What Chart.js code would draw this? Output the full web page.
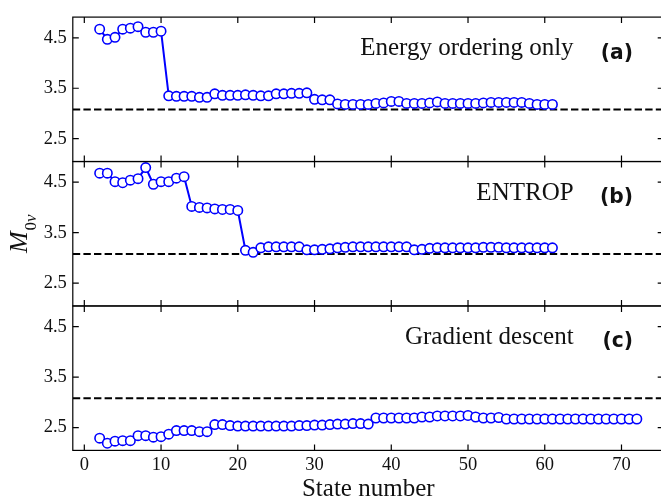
<!DOCTYPE html>
<html>
<head>
<meta charset="utf-8">
<script src="https://cdn.jsdelivr.net/npm/chart.js@4.4.0/dist/chart.umd.min.js"></script>
<style>
  html, body { margin: 0; padding: 0; background: #fff; overflow: hidden; }
  #wrap { position: relative; width: 670px; height: 499px; }
</style>
</head>
<body>
<div id="wrap"><canvas id="myChart" width="670" height="499"></canvas></div>
<script>
// state numbers for each run
const statesA = [2, 3, 4, 5, 6, 7, 8, 9, 10, 11, 12, 13, 14, 15, 16, 17, 18, 19, 20, 21,
  22, 23, 24, 25, 26, 27, 28, 29, 30, 31, 32, 33, 34, 35, 36, 37, 38, 39, 40, 41,
  42, 43, 44, 45, 46, 47, 48, 49, 50, 51, 52, 53, 54, 55, 56, 57, 58, 59, 60, 61];
const statesB = statesA;
const statesC = [2, 3, 4, 5, 6, 7, 8, 9, 10, 11, 12, 13, 14, 15, 16, 17, 18, 19, 20, 21,
  22, 23, 24, 25, 26, 27, 28, 29, 30, 31, 32, 33, 34, 35, 36, 37, 38, 39, 40, 41,
  42, 43, 44, 45, 46, 47, 48, 49, 50, 51, 52, 53, 54, 55, 56, 57, 58, 59, 60, 61,
  62, 63, 64, 65, 66, 67, 68, 69, 70, 71, 72];

// M0v values
const valuesA = [4.67, 4.47, 4.51, 4.67, 4.69, 4.72, 4.61, 4.61, 4.63, 3.35,
  3.34, 3.34, 3.34, 3.32, 3.32, 3.39, 3.36, 3.36, 3.36, 3.37,
  3.36, 3.35, 3.35, 3.39, 3.39, 3.40, 3.40, 3.41, 3.28, 3.27,
  3.27, 3.19, 3.18, 3.18, 3.18, 3.18, 3.20, 3.21, 3.24, 3.24,
  3.20, 3.20, 3.20, 3.21, 3.23, 3.20, 3.20, 3.20, 3.20, 3.20,
  3.21, 3.22, 3.22, 3.22, 3.22, 3.22, 3.20, 3.18, 3.18, 3.18];
const valuesB = [4.68, 4.68, 4.51, 4.49, 4.54, 4.57, 4.79, 4.46, 4.51, 4.51,
  4.58, 4.61, 4.02, 4.00, 3.99, 3.97, 3.96, 3.96, 3.94, 3.15,
  3.11, 3.20, 3.22, 3.22, 3.22, 3.22, 3.22, 3.16, 3.16, 3.17,
  3.18, 3.20, 3.21, 3.22, 3.22, 3.22, 3.22, 3.22, 3.22, 3.22,
  3.22, 3.16, 3.17, 3.19, 3.20, 3.20, 3.20, 3.20, 3.20, 3.20,
  3.21, 3.21, 3.21, 3.20, 3.20, 3.20, 3.20, 3.20, 3.20, 3.20];
const valuesC = [2.29, 2.19, 2.23, 2.24, 2.24, 2.34, 2.34, 2.31, 2.32, 2.37,
  2.44, 2.44, 2.44, 2.42, 2.42, 2.56, 2.56, 2.54, 2.53, 2.53,
  2.53, 2.53, 2.53, 2.53, 2.53, 2.53, 2.54, 2.54, 2.55, 2.55,
  2.56, 2.57, 2.57, 2.58, 2.58, 2.57, 2.69, 2.69, 2.69, 2.69,
  2.69, 2.69, 2.71, 2.71, 2.73, 2.73, 2.73, 2.73, 2.74, 2.71,
  2.69, 2.69, 2.70, 2.67, 2.67, 2.67, 2.67, 2.67, 2.67, 2.67,
  2.67, 2.67, 2.67, 2.67, 2.67, 2.67, 2.67, 2.67, 2.67, 2.67,
  2.67];

const refValue = 3.08;          // dashed reference line
const xTicks = [0, 10, 20, 30, 40, 50, 60, 70];
const yTicks = [2.5, 3.5, 4.5];
const xRange = [-1.5, 75.5];
const yRange = [2.048, 4.91];
const panelTitles = ['Energy ordering only', 'ENTROP', 'Gradient descent'];
const panelTags = ['(a)', '(b)', '(c)'];

const serif = '"Liberation Serif", "Times New Roman", serif';
const ink = '#111';
const blue = '#0000ff';
const axisIds = ['yA', 'yB', 'yC'];

function runData(states, values) {
    return states.map((s, i) => ({ x: s, y: values[i] }));
}

const runs = [runData(statesA, valuesA), runData(statesB, valuesB), runData(statesC, valuesC)];

const datasets = [];
runs.forEach((pts, i) => {
    datasets.push({
        data: pts,
        yAxisID: axisIds[i],
        borderColor: blue,
        borderWidth: 2,
        pointRadius: 4.7,
        pointBorderWidth: 1.6,
        pointBorderColor: blue,
        pointBackgroundColor: '#fff',
        order: 1
    });
    datasets.push({
        data: [{ x: xRange[0], y: refValue }, { x: xRange[1], y: refValue }],
        yAxisID: axisIds[i],
        borderColor: '#000',
        borderWidth: 2,
        borderDash: [7.4, 3.2],
        pointRadius: 0,
        order: 2
    });
});

function yScale(weight) {
    return {
        type: 'linear',
        position: 'left',
        stack: 'panels',
        stackWeight: 1,
        weight: weight,
        min: yRange[0],
        max: yRange[1],
        afterBuildTicks: s => { s.ticks = yTicks.map(v => ({ value: v })); },
        afterFit: s => { s.width = 72.8; },
        grid: { display: false, drawTicks: false },
        border: { display: false },
        ticks: {
            padding: 6,
            color: ink,
            font: { family: serif, size: 18.5 },
            callback: v => v.toFixed(1)
        }
    };
}

// frame, inward ticks, panel labels and y title
const framePlugin = {
    id: 'frame',
    afterDatasetsDraw(chart) {
        const ctx = chart.ctx;
        const area = chart.chartArea;
        const xs = chart.scales.x;
        const w = area.right - area.left;
        const tl = 6;
        ctx.save();
        ctx.strokeStyle = '#000';
        ctx.lineWidth = 1.2;
        axisIds.forEach((id, i) => {
            const s = chart.scales[id];
            ctx.strokeRect(area.left, s.top, w, s.bottom - s.top);
            ctx.beginPath();
            yTicks.forEach(v => {
                const y = s.getPixelForValue(v);
                ctx.moveTo(area.left, y); ctx.lineTo(area.left + tl, y);
                ctx.moveTo(area.right, y); ctx.lineTo(area.right - tl, y);
            });
            xTicks.forEach(v => {
                const x = xs.getPixelForValue(v);
                ctx.moveTo(x, s.top); ctx.lineTo(x, s.top + tl);
                ctx.moveTo(x, s.bottom); ctx.lineTo(x, s.bottom - tl);
            });
            ctx.stroke();

            ctx.fillStyle = ink;
            ctx.textAlign = 'right';
            ctx.textBaseline = 'alphabetic';
            ctx.font = '25px ' + serif;
            ctx.fillText(panelTitles[i], area.left + 0.8475 * w, s.top + 38);
            // bold tag, slightly condensed
            ctx.save();
            ctx.font = 'bold 22px "DejaVu Sans", sans-serif';
            ctx.translate(area.left + 0.948 * w, s.top + 41.5);
            ctx.scale(0.92, 1);
            ctx.fillText(panelTags[i], 0, 0);
            ctx.restore();
        });

        // y title M_{0nu}
        const mid = chart.scales.yB;
        const cy = (mid.top + mid.bottom) / 2;
        ctx.translate(27, cy);
        ctx.rotate(-Math.PI / 2);
        ctx.textAlign = 'left';
        ctx.fillStyle = ink;
        ctx.font = 'italic 26px ' + serif;
        const mW = ctx.measureText('M').width;
        ctx.font = 'italic 17px ' + serif;
        const sW = ctx.measureText('0\u03BD').width;
        const start = -(mW + sW + 1) / 2;
        ctx.font = 'italic 26px ' + serif;
        ctx.fillText('M', start, 0);
        ctx.font = '17px ' + serif;
        ctx.fillText('0', start + mW + 1, 9);
        const zW = ctx.measureText('0').width;
        ctx.font = 'italic 17px ' + serif;
        ctx.fillText('\u03BD', start + mW + 1 + zW, 9);
        ctx.restore();
    }
};

const ctx = document.getElementById('myChart').getContext('2d');
const chart = new Chart(ctx, {
    type: 'line',
    data: { datasets: datasets },
    plugins: [framePlugin],
    options: {
        responsive: false,
        animation: false,
        devicePixelRatio: 1,
        layout: { padding: { top: 10, right: 5.8, left: 0, bottom: 0 } },
        plugins: { legend: { display: false }, tooltip: { enabled: false } },
        scales: {
            x: {
                type: 'linear',
                min: xRange[0],
                max: xRange[1],
                afterBuildTicks: s => { s.ticks = xTicks.map(v => ({ value: v })); },
                afterFit: s => { s.height = 48.6; },
                grid: { display: false, drawTicks: false },
                border: { display: false },
                ticks: {
                    autoSkip: false,
                    maxRotation: 0,
                    padding: 4,
                    color: ink,
                    font: { family: serif, size: 18.5 }
                },
                title: {
                    display: true,
                    text: 'State number',
                    color: ink,
                    padding: 0,
                    font: { family: serif, size: 25, lineHeight: 0.8 }
                }
            },
            yA: yScale(3),
            yB: yScale(2),
            yC: yScale(1)
        }
    }
});
</script>
</body>
</html>
